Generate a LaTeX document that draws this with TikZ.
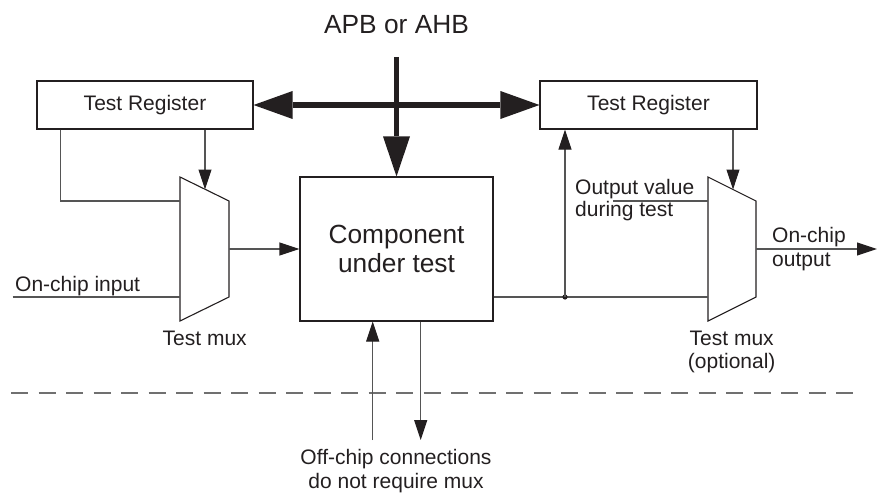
\documentclass[tikz,border=0pt]{standalone}
\usepackage{fontspec}
\setmainfont{Liberation Sans}
\usetikzlibrary{arrows.meta,positioning,calc}
\definecolor{ink}{HTML}{231F20}
\definecolor{wr}{HTML}{555555}
\definecolor{dsh}{HTML}{707070}
\newcommand{\smallfont}{\fontsize{21}{23}\selectfont}
\newcommand{\bigfont}{\fontsize{26.3}{28.5}\selectfont}
\tikzset{
  reg/.style={draw=ink,line width=1.1pt,minimum width=216pt,minimum height=48pt,inner sep=0pt,font=\smallfont,text=ink},
  cutbox/.style={reg,minimum width=193pt,minimum height=144pt,font=\bigfont,align=center},
  lbl/.style={inner sep=0pt,font=\smallfont,text=ink,align=center},
  wire/.style={line width=1.1pt,draw=wr},
  ar/.style={wire,-{Triangle[length=20pt,width=13pt,color=ink]}},
  bus/.style={line width=5.7pt,draw=ink},
  busdbl/.style={bus,{Triangle[length=39pt,width=28pt,line width=0pt]}-{Triangle[length=39pt,width=28pt,line width=0pt]}},
  busar/.style={bus,-{Triangle[length=40pt,width=27pt,line width=0pt]}},
  muxbox/.style={draw=ink,line width=1.1pt,line join=miter},
}
\begin{document}
\begin{tikzpicture}[x=1pt,y=-1pt]
\useasboundingbox (0,0) rectangle (882,492);
% registers, unit under test, bus
\node[reg] (regL) at (145,105) {Test Register};
\node[reg,minimum width=217pt] (regR) at (648.5,105) {Test Register};
\node[cutbox] (cut) at (396.5,249) {Component\\under test};
\node[lbl,anchor=base,font=\bigfont] (buslbl) at (396.5,33.3) {APB or AHB};
\coordinate (busT) at (396.5,57);
\draw[busdbl] (regL.east) -- (regR.west);
\draw[busar] (busT) -- (cut.north);
% muxes
\draw[muxbox] (180,177) -- (229,201) -- (229,297) -- (180,321) -- cycle;
\draw[muxbox] (708,177) -- (756,201) -- (756,297) -- (708,321) -- cycle;
\coordinate (muxLa) at (180,201);
\coordinate (muxLb) at (180,297);
\coordinate (muxLo) at (229,249);
\coordinate (muxLs) at (205,189.5);
\coordinate (muxRa) at (708,201);
\coordinate (muxRb) at (708,297);
\coordinate (muxRo) at (756,249);
\coordinate (muxRs) at (733,189.5);
% left side
\draw[wire] ($(regL.south west)+(24,0)$) |- (muxLa);
\draw[ar] (muxLs |- regL.south) -- (muxLs);
\coordinate (inL) at (12.7,297);
\draw[wire] (inL) -- (muxLb);
\node[lbl,anchor=base west] (inLlbl) at (15,291.7) {On-chip input};
\draw[ar] (muxLo) -- (muxLo -| cut.west);
\node[lbl,anchor=base] (muxLlbl) at (204.7,345.5) {Test mux};
% right side
\coordinate (junc) at (565,297);
\draw[wire] (junc -| cut.east) -- (muxRb);
\fill[ink] (junc) circle (2.6pt);
\draw[ar] (junc) -- (junc |- regR.south);
\draw[ar] (muxRs |- regR.south) -- (muxRs);
\coordinate (outV) at (613,201);
\draw[wire] (outV) -- (muxRa);
\node[lbl,anchor=west,align=left,font=\fontsize{21}{22}\selectfont] (outVlbl) at (575,200.5) {Output value\\during test};
\coordinate (chipOut) at (877,249);
\draw[ar] (muxRo) -- (chipOut);
\node[lbl,anchor=west,align=left,font=\fontsize{21}{24}\selectfont] (outlbl) at (772,249) {On-chip\\output};
\node[lbl] (muxRlbl) at (731.7,351.5) {Test mux\\(optional)};
% off-chip boundary
\coordinate (dashL) at (11,393);
\coordinate (dashR) at (856,393);
\draw[dsh,line width=2.2pt,dash pattern=on 17pt off 10.5pt] (dashL) -- (dashR);
\coordinate (offIn) at (372.7,440);
\coordinate (offOut) at (420.7,440);
\draw[ar] (offIn) -- (offIn |- cut.south);
\draw[ar] (offOut |- cut.south) -- (offOut);
\node[lbl,font=\fontsize{21}{24}\selectfont] (offlbl) at (396,471.5) {Off-chip connections\\do not require mux};
\end{tikzpicture}
\end{document}
